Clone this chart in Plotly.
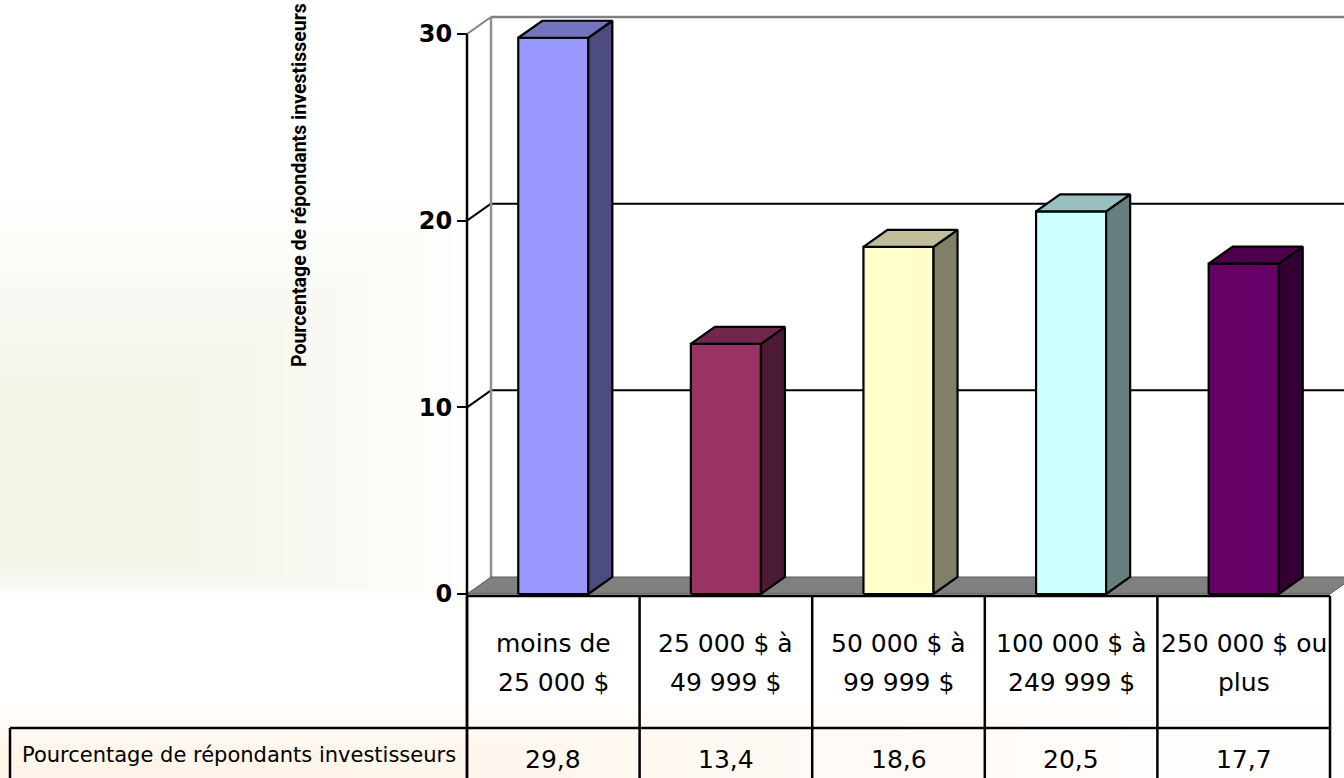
import plotly.graph_objects as go

# ---------------- data ----------------
categories = ["moins de\n25 000 $", "25 000 $ à\n49 999 $", "50 000 $ à\n99 999 $",
              "100 000 $ à\n249 999 $", "250 000 $ ou\nplus"]
values = [29.8, 13.4, 18.6, 20.5, 17.7]
series_name = "Pourcentage de répondants investisseurs"
y_ticks = [0, 10, 20, 30]
front_colors = ["#9999FF", "#993366", "#FFFFCC", "#CCFFFF", "#660066"]

# ---------------- geometry / style ----------------
FIG_W, FIG_H = 1344, 778
AX_LEFT_PX = 467          # pixel of category boundary -0.5
CAT_W_PX = 172.6          # pixel width of one category
Y0_PX = 594               # pixel of value 0
PX_PER_UNIT = 560 / 30    # pixels per value unit
DEPTH_X_PX, DEPTH_Y_PX = 24, 17
BAR_HALF = 0.203
FONT = "DejaVu Sans"


def X(px):
    return (px - AX_LEFT_PX) / CAT_W_PX - 0.5


def Y(py):
    return (Y0_PX - py) / PX_PER_UNIT


DX = DEPTH_X_PX / CAT_W_PX
DY = DEPTH_Y_PX / PX_PER_UNIT
n = len(values)
x_range = [X(0), X(FIG_W)]
y_range = [Y(FIG_H), Y(0)]
y_top = max(y_ticks)
x_left = -0.5
x_right = n - 0.5


def shade(hexcol, f):
    h = hexcol.lstrip("#")
    r, g, b = (int(h[i:i + 2], 16) for i in (0, 2, 4))
    return "rgb(%d,%d,%d)" % (round(r * f), round(g * f), round(b * f))


def pline(x0, y0, x1, y1, color="black", width=2):
    return dict(type="line", xref="x", yref="y", x0=x0, y0=y0, x1=x1, y1=y1,
                line=dict(color=color, width=width), layer="below")


def prect(x0, y0, x1, y1, fill, xref="paper", yref="paper"):
    return dict(type="rect", xref=xref, yref=yref, x0=x0, y0=y0, x1=x1, y1=y1,
                fillcolor=fill, line=dict(width=0), layer="below")


def ppath(pts, fill, line_color=None, width=0):
    d = "M " + " L ".join("%f,%f" % p for p in pts) + " Z"
    return dict(type="path", xref="x", yref="y", path=d, fillcolor=fill,
                line=dict(color=line_color or fill, width=width), layer="below")


shapes = []
# soft textured background (decoration): stacked translucent layers -> smooth fade
for k in range(12):
    x1 = 480 - k * 28
    py0, py1 = 200 + k * 18, 600 - k * 3
    shapes.append(prect(0, 1 - py1 / FIG_H, x1 / FIG_W, 1 - py0 / FIG_H,
                        "rgba(215,190,150,0.017)"))
for k in range(10):
    x1 = 1344 - k * 110
    py0 = 705 + k * 5
    shapes.append(prect(0, 0, x1 / FIG_W, 1 - py0 / FIG_H, "rgba(235,200,155,0.024)"))

# walls
shapes.append(ppath([(x_left + DX, DY), (x_left + DX, y_top + DY),
                     (x_right + DX, y_top + DY), (x_right + DX, DY)], "white"))
shapes.append(ppath([(x_left, 0), (x_left, y_top), (x_left + DX, y_top + DY),
                     (x_left + DX, DY)], "white"))
# gridlines on walls
for t in y_ticks[1:-1]:
    shapes.append(pline(x_left, t, x_left + DX, t + DY, "black", 2))
    shapes.append(pline(x_left + DX, t + DY, x_right + DX, t + DY, "black", 2))
shapes.append(pline(x_left, y_top, x_left + DX, y_top + DY, "#808080", 2))
shapes.append(pline(x_left + DX, y_top + DY, x_right + DX, y_top + DY, "#808080", 2.5))
shapes.append(pline(x_left + DX, DY, x_left + DX, y_top + DY, "#909090", 2.5))
# floor
shapes.append(ppath([(x_left, 0), (x_left + DX, DY), (x_right + DX, DY), (x_right, 0)],
                    "#808080", "#5a5a5a", 1))

# front axis line & table grid
y_bottom = y_range[0] - 1
shapes.append(pline(x_left, y_top, x_left, y_bottom, "black", 2.5))
shapes.append(pline(x_left, Y(596), x_right, Y(596), "black", 2.5))
for i in range(n + 1):
    shapes.append(pline(i - 0.5, Y(596), i - 0.5, y_bottom, "black", 2.5))
shapes.append(pline(X(10), Y(728), x_right, Y(728), "black", 2.5))
shapes.append(pline(X(10), Y(728), X(10), y_bottom, "black", 2.5))

fig = go.Figure()

# 3D bars
for i, (v, col) in enumerate(zip(values, front_colors)):
    xl, xr = i - BAR_HALF, i + BAR_HALF
    faces = [
        ([xl, xr, xr, xl, xl], [0, 0, v, v, 0], col),
        ([xr, xr + DX, xr + DX, xr, xr], [0, DY, v + DY, v, 0], shade(col, 0.5)),
        ([xl, xl + DX, xr + DX, xr, xl], [v, v + DY, v + DY, v, v], shade(col, 0.75)),
    ]
    for fx, fy, fc in faces:
        fig.add_trace(go.Scatter(x=fx, y=fy, mode="lines", fill="toself",
                                 fillcolor=fc, line=dict(color="black", width=2.2),
                                 hoverinfo="skip", showlegend=False))

annotations = []
# category labels (two lines each)
for i, cat in enumerate(categories):
    for k, line in enumerate(cat.split("\n")):
        annotations.append(dict(x=i, y=Y(643 + 39 * k), xref="x", yref="y", text=line,
                                showarrow=False, font=dict(family=FONT, size=25, color="black"),
                                xanchor="center", yanchor="middle"))
# values row
for i, v in enumerate(values):
    annotations.append(dict(x=i, y=Y(759), xref="x", yref="y",
                            text=("%.1f" % v).replace(".", ","), showarrow=False,
                            font=dict(family=FONT, size=25, color="black"),
                            xanchor="center", yanchor="middle"))
# row label
annotations.append(dict(x=(X(10) + x_left) / 2, y=Y(755), xref="x", yref="y",
                        text=series_name, showarrow=False,
                        font=dict(family=FONT, size=21, color="black"),
                        xanchor="center", yanchor="middle"))
# y-axis title
annotations.append(dict(x=300 / FIG_W, y=1 - 185 / FIG_H, xref="paper", yref="paper",
                        text="<b>" + series_name + "</b>", textangle=-90, showarrow=False,
                        font=dict(family="Roboto", size=19.5, color="black"),
                        xanchor="center", yanchor="middle"))

fig.update_layout(
    width=FIG_W, height=FIG_H,
    margin=dict(l=0, r=0, t=0, b=0, pad=0),
    paper_bgcolor="white", plot_bgcolor="rgba(0,0,0,0)",
    showlegend=False,
    shapes=shapes, annotations=annotations,
    xaxis=dict(range=x_range, visible=False, fixedrange=True),
    yaxis=dict(range=y_range, anchor="free", position=AX_LEFT_PX / FIG_W,
               tickvals=y_ticks, ticktext=[str(t) for t in y_ticks],
               ticks="outside", ticklen=10, tickwidth=2, tickcolor="black",
               tickfont=dict(family=FONT, size=24, color="black", weight="bold"),
               showgrid=False, zeroline=False, showline=False,
               automargin=False, fixedrange=True),
)

fig.write_html("out.html")
